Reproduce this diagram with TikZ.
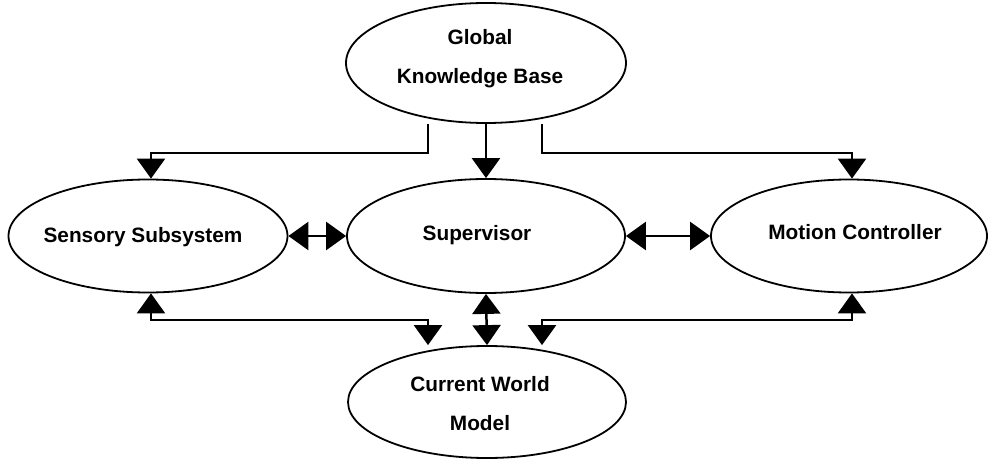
\documentclass[tikz,border=0pt]{standalone}
\usepackage{fontspec}
\setmainfont{Liberation Sans}
\usetikzlibrary{arrows.meta,shapes.geometric}
\begin{document}
\begin{tikzpicture}[x=1pt,y=1pt,
  ell/.style={draw, ellipse, line width=1.8pt, inner sep=0pt},
  lbl/.style={font=\fontsize{20.8}{39}\selectfont\bfseries, align=center, inner sep=0pt},
  conn/.style={line width=2.5pt, -{Triangle[width=28pt,length=20pt]}},
  conntwo/.style={line width=2.5pt, {Triangle[width=28pt,length=20pt]}-{Triangle[width=28pt,length=20pt]}}]
\useasboundingbox (0,0) rectangle (989,459);
% ellipses
\node[ell, minimum width=280pt, minimum height=120pt] (glob) at (486,396) {};
\node[ell, minimum width=279pt, minimum height=113pt] (sens) at (148,223) {};
\node[ell, minimum width=278pt, minimum height=114pt] (sup) at (486,223) {};
\node[ell, minimum width=276pt, minimum height=113pt] (mot) at (849,223) {};
\node[ell, minimum width=278pt, minimum height=112pt] (cwm) at (487,57) {};
% labels
\node[lbl] (globtext) at ([xshift=-6pt,yshift=4pt]glob.center) {Global\\Knowledge Base};
\node[lbl] (senstext) at ([xshift=-5pt,yshift=-1pt]sens.center) {Sensory Subsystem};
\node[lbl] (suptext) at ([xshift=-9pt,yshift=1pt]sup.center) {Supervisor};
\node[lbl] (mottext) at ([xshift=6pt,yshift=4pt]mot.center) {Motion Controller};
\node[lbl] (cwmtext) at ([xshift=-7pt,yshift=-2pt]cwm.center) {Current World\\Model};
% coordinates
\coordinate (gl) at ([xshift=-58pt]glob.south);
\coordinate (gr) at ([xshift=56pt]glob.south);
\coordinate (sn) at ([xshift=3pt]sens.north);
\coordinate (ss) at ([xshift=3pt]sens.south);
\coordinate (mn) at ([xshift=3pt]mot.north);
\coordinate (ms) at ([xshift=3pt]mot.south);
\coordinate (cl) at ([xshift=-59pt]cwm.north);
\coordinate (cr) at ([xshift=55pt]cwm.north);
% connectors from global
\draw[conn] (gl) -- ++(0,-29) -| (sn);
\draw[conn] (glob.south) -- (sup.north);
\draw[conn] (gr) -- ++(0,-29) -| (mn);
% horizontal double arrows
\draw[conntwo] (sens.east) -- (sup.west);
\draw[conntwo] (sup.east) -- (mot.west);
% to current world model
\draw[conntwo] (cl) -- ++(0,25) -| (ss);
\draw[conntwo] (sup.south) -- (cwm.north);
\draw[conntwo] (cr) -- ++(0,25) -| (ms);
\end{tikzpicture}
\end{document}
